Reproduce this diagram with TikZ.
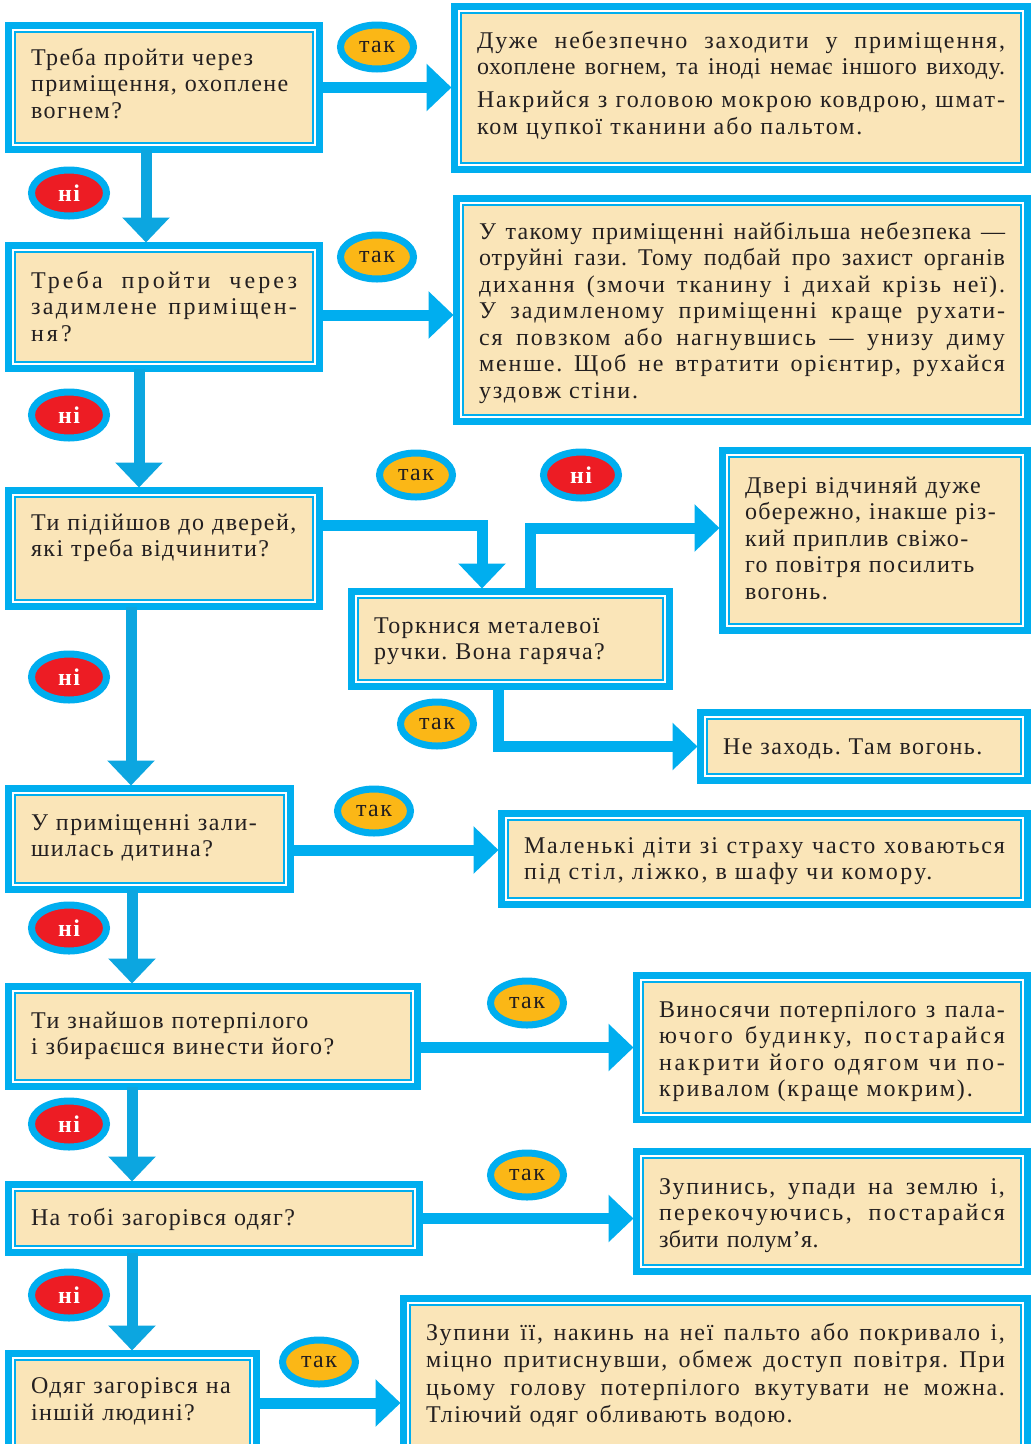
\documentclass[tikz,border=0pt]{standalone}
\usepackage{fontspec}
\setmainfont{Liberation Serif}[LetterSpace=6.0]
\usetikzlibrary{arrows.meta,shapes.geometric,fit,calc}
\definecolor{cy}{RGB}{0,174,239}
\definecolor{cyd}{RGB}{12,166,224}
\definecolor{beige}{RGB}{250,229,184}
\definecolor{org}{RGB}{251,183,22}
\definecolor{rd}{RGB}{237,28,36}
\definecolor{ink}{RGB}{35,31,32}
\newcommand\jl[3][6]{\leavevmode\hbox to #2{\addfontfeature{LetterSpace=#1}\spaceskip=0.3em plus 1fil minus 0.1em\relax\xspaceskip=\spaceskip #3}}
\newcommand\ls[2]{{\addfontfeature{LetterSpace=#1}#2}}
\newcommand\tfont[1]{\fontsize{24}{#1}\selectfont\frenchspacing\spaceskip=0.38em plus 0.1em minus 0.05em\relax}
\tikzset{
  qbox/.style={rectangle, fill=beige, draw=cy, line width=7pt, inner sep=0pt, outer sep=0pt,
    path picture={
      \draw[white, line width=2pt] ([shift={(4.5,4.5)}]path picture bounding box.north west) rectangle ([shift={(-4.5,-4.5)}]path picture bounding box.south east);
      \draw[cy, line width=1.6pt] ([shift={(6.3,6.3)}]path picture bounding box.north west) rectangle ([shift={(-6.3,-6.3)}]path picture bounding box.south east);
    }},
}
\newcommand\qb[5]{\node[qbox, fit={({#2+3.5},{#3+3.5}) ({#4-3.5},{#5-3.5})}] (#1) {};}
\begin{document}
\begin{tikzpicture}[x=1pt,y=-1pt,
  tx/.style={anchor=base west, inner sep=0pt, outer sep=0pt, align=left, text=ink, font=\tfont{26.5}},
  arr/.style={draw=cy, line width=11pt, line join=miter, shorten >=3pt, -{Triangle[width=46pt,length=25pt]}},
  darr/.style={arr, draw=cyd},
  tak/.style={ellipse, draw=cy, line width=7pt, fill=org, minimum width=73pt, minimum height=44pt, inner sep=0pt, text=ink, font=\fontsize{24}{26}\selectfont},
  ni/.style={tak, fill=rd, minimum width=75pt, minimum height=46pt, text=white, font=\fontsize{24}{26}\selectfont\bfseries},
]
\fill[white] (0,0) rectangle (1032,1444);
\useasboundingbox (0,0) rectangle (1032,1444);

% boxes
\qb{a1}{5}{22}{323}{153}
\qb{b1}{451}{3}{1031}{173}
\qb{a2}{5}{242}{323}{372}
\qb{b2}{453}{195}{1031}{425}
\qb{a3}{5}{487}{323}{610}
\qb{c3}{348}{588}{673}{690}
\qb{b3}{719}{447}{1031}{634}
\qb{d3}{697}{709}{1031}{784}
\qb{a4}{5}{785}{294}{893}
\qb{b4}{498}{810}{1031}{908}
\qb{a5}{5}{983}{421}{1090}
\qb{b5}{633}{972}{1031}{1123}
\qb{a6}{5}{1181}{423}{1256}
\qb{b6}{633}{1148}{1031}{1275}
\qb{a7}{5}{1350}{260}{1456}
\qb{b7}{400}{1295}{1031}{1460}

% texts
\node[tx, text width=266pt] (ta1) at (31,65) {Треба пройти через\\приміщення, охоплене\\вогнем?};
\node[tx, text width=528pt] (tb1) at (477,48) {\jl[8]{528pt}{Дуже небезпечно заходити у приміщення,}\\\jl[3]{528pt}{охоплене вогнем, та іноді немає іншого виходу.}\\[6.5pt]\jl[8]{528pt}{Накрийся з головою мокрою ковдрою, шмат-}\\\ls{8}{ком цупкої тканини або пальтом.}};
\node[tx, text width=266pt] (ta2) at (31,288) {\jl[13]{266pt}{Треба пройти через}\\\jl[10]{266pt}{задимлене приміщен-}\\\ls{13}{ня?}};
\node[tx, text width=526pt] (tb2) at (479,239) {\jl[5]{526pt}{У такому приміщенні найбільша небезпека —}\\\jl[4]{526pt}{отруйні гази. Тому подбай про захист органів}\\\jl[8]{526pt}{дихання (змочи тканину і дихай крізь неї).}\\\jl[8]{526pt}{У задимленому приміщенні краще рухати-}\\\jl[8]{526pt}{ся повзком або нагнувшись — унизу диму}\\\jl[8]{526pt}{менше. Щоб не втратити орієнтир, рухайся}\\\ls{8}{уздовж стіни.}};
\node[tx, text width=266pt] (ta3) at (31,530) {Ти підійшов до дверей,\\які треба відчинити?};
\node[tx, text width=273pt] (tc3) at (374,633) {Торкнися металевої\\ручки. Вона гаряча?};
\node[tx, text width=260pt] (tb3) at (745,493) {Двері відчиняй дуже\\обережно, інакше різ-\\кий приплив свіжо-\\го повітря посилить\\вогонь.};
\node[tx, text width=282pt] (td3) at (723,754) {Не заходь. Там вогонь.};
\node[tx, text width=237pt] (ta4) at (31,830) {У приміщенні зали-\\шилась дитина?};
\node[tx, text width=481pt] (tb4) at (524,853) {\jl[8]{481pt}{Маленькі діти зі страху часто ховаються}\\\ls{10}{під стіл, ліжко, в шафу чи комору.}};
\node[tx, text width=364pt] (ta5) at (31,1028) {Ти знайшов потерпілого\\і збираєшся винести його?};
\node[tx, text width=346pt] (tb5) at (659,1017) {\jl[6]{346pt}{Виносячи потерпілого з пала-}\\\jl[12]{346pt}{ючого будинку, постарайся}\\\jl[12]{346pt}{накрити його одягом чи по-}\\\ls{8}{кривалом (краще мокрим).}};
\node[tx, text width=366pt] (ta6) at (31,1225) {На тобі загорівся одяг?};
\node[tx, text width=346pt] (tb6) at (659,1194) {\jl[7]{346pt}{Зупинись, упади на землю і,}\\\jl[10]{346pt}{перекочуючись, постарайся}\\\ls{2}{збити полум’я.}};
\node[tx, text width=203pt, font=\tfont{27}] (ta7) at (31,1393) {Одяг загорівся на\\іншій людині?};
\node[tx, text width=579pt, font=\tfont{27.5}] (tb7) at (426,1340) {\jl[7]{579pt}{Зупини її, накинь на неї пальто або покривало і,}\\\jl[7]{579pt}{міцно притиснувши, обмеж доступ повітря. При}\\\jl[7]{579pt}{цьому голову потерпілого вкутувати не можна.}\\Тліючий одяг обливають водою.};

% horizontal connectors
\draw[arr] (a1.east) -- (a1.east -| b1.west);
\draw[arr] ($(a2.east)+(0,8)$) -- ($(a2.east -| b2.west)+(0,8)$);
\draw[arr] ($(a3.east)+(0,-23.5)$) -| ($(c3.north)+(-28.5,0)$);
\draw[arr] ($(c3.north)+(20,0)$) |- ($(b3.west)+(0,-12.5)$);
\draw[arr] ($(c3.south)+(-12,0)$) |- (d3.west);
\draw[arr] ($(a4.east)+(0,11)$) -- ($(a4.east -| b4.west)+(0,11)$);
\draw[arr] (a5.east |- b5.west) -- (b5.west);
\draw[arr] (a6.east) -- (a6.east -| b6.west);
\draw[arr] (a7.east) -- (a7.east -| b7.west);

% vertical connectors
\draw[darr] ($(a1.south)+(-18,0)$) -- ($(a2.north)+(-18,0)$);
\draw[darr] ($(a2.south)+(-25,0)$) -- ($(a3.north)+(-25,0)$);
\draw[darr] ($(a3.south)+(-33,0)$) -- ($(a4.north)+(-18.5,0)$);
\draw[darr] ($(a4.south)+(-17.5,0)$) -- ($(a5.north)+(-81,0)$);
\draw[darr] ($(a5.south)+(-81,0)$) -- ($(a6.north)+(-82,0)$);
\draw[darr] ($(a6.south)+(-82,0)$) -- ($(a7.north)+(-0.5,0)$);

% badges
\node[tak] (y1) at (377,47) {так};
\node[ni] (n1) at (69,193) {ні};
\node[tak] (y2) at (377,257) {так};
\node[ni] (n2) at (69,415) {ні};
\node[tak] (y3) at (416,475) {так};
\node[ni] (n3c) at (581,475) {ні};
\node[ni] (n3) at (69,677) {ні};
\node[tak] (y3c) at (437,724) {так};
\node[tak] (y4) at (374,811) {так};
\node[ni] (n4) at (69,928) {ні};
\node[tak] (y5) at (527,1003) {так};
\node[ni] (n5) at (69,1124) {ні};
\node[tak] (y6) at (527,1175) {так};
\node[ni] (n6) at (69,1295) {ні};
\node[tak] (y7) at (319,1362) {так};
\end{tikzpicture}
\end{document}
